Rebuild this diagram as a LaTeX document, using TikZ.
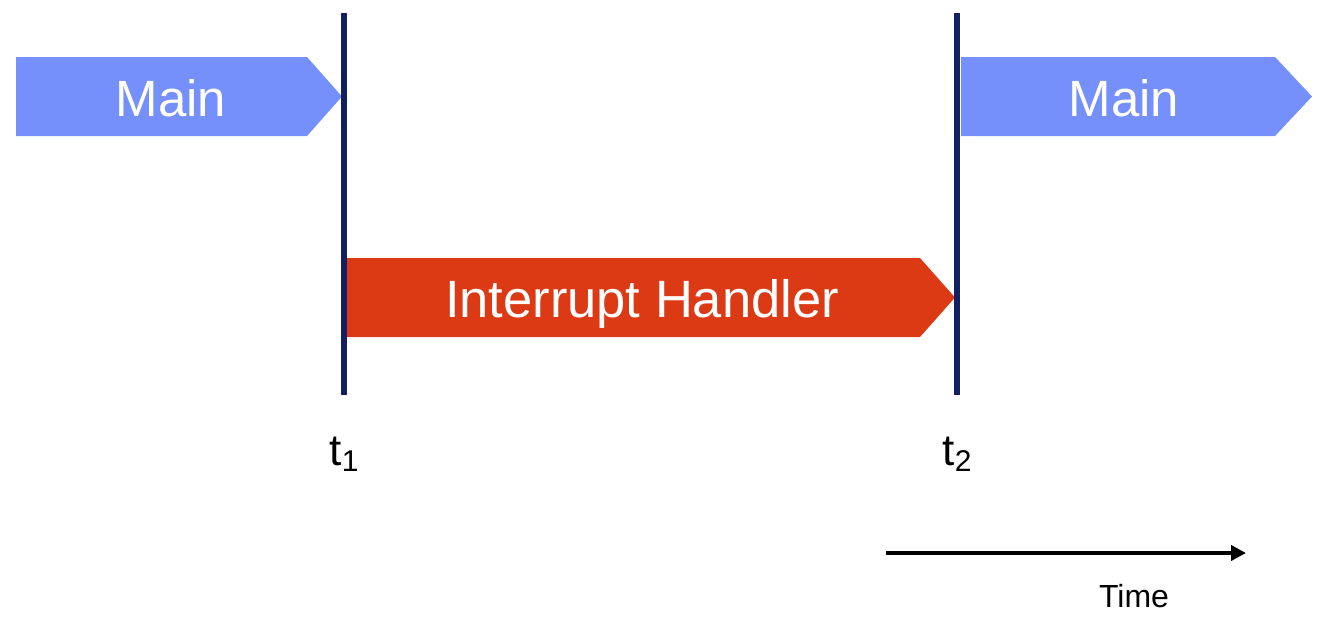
\documentclass[tikz,border=0pt]{standalone}
\usepackage{fontspec}
\setmainfont{Liberation Sans}
\usetikzlibrary{arrows.meta}
\definecolor{mainblue}{RGB}{117,144,250}
\definecolor{handred}{RGB}{219,58,21}
\definecolor{navy}{RGB}{16,32,96}
\tikzset{
  bartext/.style={text=white,font=\fontsize{51}{51}\selectfont,anchor=base,inner sep=0pt},
  tlabel/.style={font=\fontsize{44}{44}\selectfont,anchor=base,inner sep=0pt},
  marker/.style={draw=navy,line width=6pt},
}
\begin{document}
\begin{tikzpicture}[x=1pt,y=-1pt]
\useasboundingbox (0,0) rectangle (1322,619);
% bars
\fill[mainblue] (16,57) -- (307,57) -- (342,96.5) -- (307,136) -- (16,136) -- cycle;
\fill[mainblue] (961,57) -- (1275,57) -- (1312,96.5) -- (1275,136) -- (961,136) -- cycle;
\fill[handred] (347,258) -- (920,258) -- (955,297.5) -- (920,337) -- (347,337) -- cycle;
\node[bartext] (main1) at (171,116) {Main};
\node[bartext] (main2) at (1124,116) {Main};
\node[bartext,font=\fontsize{52.5}{52.5}\selectfont] (handler) at (642,317) {Interrupt Handler};
% markers
\coordinate (l1top) at (344,13);
\coordinate (l1bot) at (344,395);
\coordinate (l2top) at (957,13);
\coordinate (l2bot) at (957,395);
\draw[marker] (l1top) -- (l1bot);
\draw[marker] (l2top) -- (l2bot);
\node[tlabel] (t1) at (344,465) {t\raisebox{-6pt}{\fontsize{30}{30}\selectfont 1}};
\node[tlabel] (t2) at (957,465) {t\raisebox{-6pt}{\fontsize{30}{30}\selectfont 2}};
% time axis
\coordinate (ts) at (886,553);
\coordinate (te) at (1246,553);
\draw[line width=4pt,-{Triangle[length=15pt,width=15pt]}] (ts) -- (te);
\node[font=\fontsize{32}{32}\selectfont,anchor=base,inner sep=0pt] (time) at (1134,607) {Time};
\end{tikzpicture}
\end{document}
